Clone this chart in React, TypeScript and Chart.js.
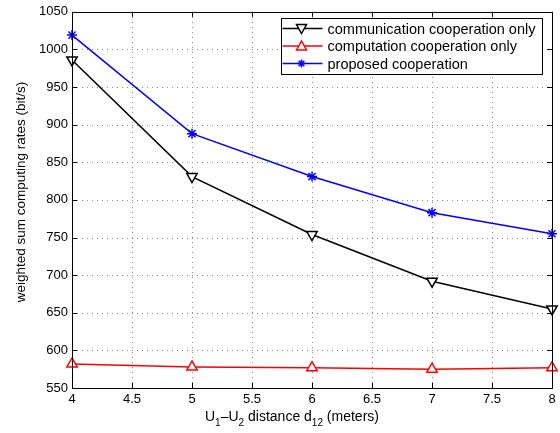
import React, { useEffect, useRef } from "react";
import { Chart, registerables } from "chart.js";

Chart.register(...registerables);

const distances = [4, 5, 6, 7, 8];
const commOnly = [986, 831, 754, 692, 655];
const compOnly = [582, 578, 577, 575, 577];
const proposed = [1019, 888, 831, 783, 755];
const xTicks = [4, 4.5, 5, 5.5, 6, 6.5, 7, 7.5, 8];
const yTicks = [550, 600, 650, 700, 750, 800, 850, 900, 950, 1000, 1050];
const seriesNames = [
  "communication cooperation only",
  "computation cooperation only",
  "proposed cooperation",
];

const FONT = "Liberation Sans, Arial, Helvetica, sans-serif";

const gridPlugin = {
  id: "dottedGrid",
  beforeDatasetsDraw(chart: any) {
    const { ctx, chartArea: a, scales } = chart;
    ctx.save();
    ctx.strokeStyle = "#8c8c8c";
    ctx.lineWidth = 1;
    ctx.setLineDash([1, 4]);
    ctx.beginPath();
    xTicks.forEach((v) => {
      const px = Math.round(scales.x.getPixelForValue(v)) + 0.5;
      ctx.moveTo(px, a.bottom);
      ctx.lineTo(px, a.top);
    });
    yTicks.forEach((v) => {
      const py = Math.round(scales.y.getPixelForValue(v)) + 0.5;
      ctx.moveTo(a.left, py);
      ctx.lineTo(a.right, py);
    });
    ctx.stroke();
    ctx.restore();
  },
};

const framePlugin = {
  id: "frame",
  afterDraw(chart: any) {
    const { ctx, chartArea: a, scales } = chart;
    const xs = scales.x;
    const ys = scales.y;
    ctx.save();
    ctx.strokeStyle = "#000";
    ctx.lineWidth = 1;
    const tl = 5;
    ctx.beginPath();
    xTicks.forEach((v) => {
      const px = Math.round(xs.getPixelForValue(v)) + 0.5;
      ctx.moveTo(px, a.bottom);
      ctx.lineTo(px, a.bottom - tl);
      ctx.moveTo(px, a.top);
      ctx.lineTo(px, a.top + tl);
    });
    yTicks.forEach((v) => {
      const py = Math.round(ys.getPixelForValue(v)) + 0.5;
      ctx.moveTo(a.left, py);
      ctx.lineTo(a.left + tl, py);
      ctx.moveTo(a.right, py);
      ctx.lineTo(a.right - tl, py);
    });
    ctx.stroke();
    ctx.strokeRect(
      Math.round(a.left) + 0.5,
      Math.round(a.top) + 0.5,
      Math.round(a.right - a.left),
      Math.round(a.bottom - a.top)
    );

    // legend
    const lx = 281.5, ly = 18.5, lw = 261, lh = 56;
    ctx.fillStyle = "#fff";
    ctx.fillRect(lx, ly, lw, lh);
    ctx.strokeStyle = "#000";
    ctx.strokeRect(lx, ly, lw, lh);
    ctx.font = `14.5px ${FONT}`;
    ctx.textBaseline = "middle";
    ctx.textAlign = "left";
    const colors = ["#000000", "#ff0000", "#0000ff"];
    seriesNames.forEach((name, i) => {
      const y = ly + 10 + i * 17.5;
      ctx.strokeStyle = colors[i];
      ctx.lineWidth = 1.5;
      ctx.beginPath();
      ctx.moveTo(lx + 1, y);
      ctx.lineTo(lx + 41, y);
      ctx.stroke();
      const cx = lx + 20;
      ctx.beginPath();
      if (i === 0) {
        ctx.moveTo(cx - 5, y - 4);
        ctx.lineTo(cx + 5, y - 4);
        ctx.lineTo(cx, y + 5);
        ctx.closePath();
        ctx.fillStyle = "#fff";
        ctx.fill();
        ctx.stroke();
      } else if (i === 1) {
        ctx.moveTo(cx - 5, y + 4);
        ctx.lineTo(cx + 5, y + 4);
        ctx.lineTo(cx, y - 5);
        ctx.closePath();
        ctx.fillStyle = "#fff";
        ctx.fill();
        ctx.stroke();
      } else {
        const r = 4;
        for (let k = 0; k < 4; k++) {
          const ang = (k * Math.PI) / 4;
          ctx.moveTo(cx - r * Math.cos(ang), y - r * Math.sin(ang));
          ctx.lineTo(cx + r * Math.cos(ang), y + r * Math.sin(ang));
        }
        ctx.stroke();
      }
      ctx.fillStyle = "#000";
      ctx.fillText(name, lx + 46, y + 1);
    });

    // y axis title
    ctx.save();
    ctx.translate(21, 192);
    ctx.rotate(-Math.PI / 2);
    ctx.textAlign = "center";
    ctx.textBaseline = "middle";
    ctx.fillStyle = "#000";
    ctx.font = `13.5px ${FONT}`;
    ctx.fillText("weighted sum computing rates (bit/s)", 0, 0);
    ctx.restore();

    // x axis title with subscripts
    const parts: [string, boolean][] = [
      ["U", false], ["1", true], ["\u2013U", false], ["2", true],
      [" distance d", false], ["12", true], [" (meters)", false],
    ];
    const mainFont = `14px ${FONT}`;
    const subFont = `10px ${FONT}`;
    let x = 205;
    const by = 421;
    ctx.fillStyle = "#000";
    ctx.textAlign = "left";
    ctx.textBaseline = "alphabetic";
    parts.forEach(([t, sub]) => {
      ctx.font = sub ? subFont : mainFont;
      ctx.fillText(t, x, sub ? by + 5 : by);
      x += ctx.measureText(t).width;
    });
    ctx.restore();
  },
};

export default function App() {
  const ref = useRef<HTMLCanvasElement>(null);
  useEffect(() => {
    document.body.style.margin = "0";
    const mk = (vals: number[]) => distances.map((d, i) => ({ x: d, y: vals[i] }));
    const chart = new Chart(ref.current!, {
      type: "line",
      data: {
        datasets: [
          {
            label: seriesNames[0],
            data: mk(commOnly),
            borderColor: "#000000",
            backgroundColor: "#ffffff",
            borderWidth: 1.5,
            pointStyle: "triangle",
            rotation: 180,
            pointRadius: 6,
            pointBorderWidth: 1.5,
          },
          {
            label: seriesNames[1],
            data: mk(compOnly),
            borderColor: "#ff0000",
            backgroundColor: "#ffffff",
            borderWidth: 1.5,
            pointStyle: "triangle",
            pointRadius: 6,
            pointBorderWidth: 1.5,
          },
          {
            label: seriesNames[2],
            data: mk(proposed),
            borderColor: "#0000ff",
            backgroundColor: "#0000ff",
            borderWidth: 1.5,
            pointStyle: "star",
            pointRadius: 5,
            pointBorderWidth: 1.5,
          },
        ],
      },
      options: {
        animation: false,
        responsive: false,
        devicePixelRatio: 1,
        clip: false,
        layout: { padding: { left: 0, right: 8, top: 7, bottom: 0 } },
        plugins: { legend: { display: false }, tooltip: { enabled: false } },
        scales: {
          x: {
            type: "linear",
            min: 4,
            max: 8,
            afterBuildTicks: (s: any) => {
              s.ticks = xTicks.map((v) => ({ value: v }));
            },
            afterFit: (s: any) => {
              s.height = 45;
            },
            ticks: {
              color: "#000",
              font: { family: FONT, size: 13 },
              padding: 4,
              maxRotation: 0,
              callback: (v: any) => String(v),
            },
            grid: { display: false, drawTicks: false },
            border: { display: false },
          },
          y: {
            min: 550,
            max: 1050,
            afterBuildTicks: (s: any) => {
              s.ticks = yTicks.map((v) => ({ value: v }));
            },
            afterFit: (s: any) => {
              s.width = 72;
            },
            ticks: {
              color: "#000",
              font: { family: FONT, size: 13 },
              padding: 4,
              callback: (v: any) => String(v),
            },
            grid: { display: false, drawTicks: false },
            border: { display: false },
          },
        },
      },
      plugins: [gridPlugin, framePlugin],
    } as any);
    return () => chart.destroy();
  }, []);
  return <canvas ref={ref} width={560} height={433} style={{ display: "block" }} />;
}
